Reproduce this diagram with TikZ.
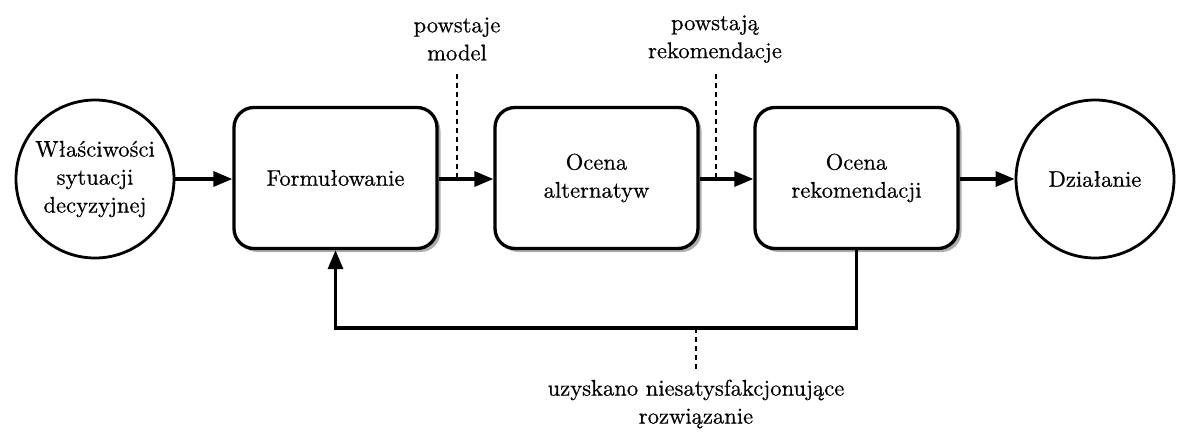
\documentclass[tikz,border=0pt]{standalone}
\usepackage{fontspec}
\newfontfamily\labelfont{lmroman10-regular.otf}[FakeBold=0.5]
\usetikzlibrary{arrows.meta,shadows}
\begin{document}
\begin{tikzpicture}[x=1pt,y=-1pt,
  every node/.style={font=\labelfont\fontsize{22.6}{28}\selectfont, align=center, inner sep=0pt},
  stage/.style={draw, line width=3.3pt, rounded corners=20pt, minimum width=203pt, minimum height=141pt,
    fill=white, drop shadow={shadow xshift=3.5pt, shadow yshift=-3.5pt, fill=black!45, opacity=0.7}},
  state/.style={draw, line width=2.8pt, circle, minimum size=158pt, fill=white},
  flow/.style={line width=3.3pt, -{Triangle[length=19pt,width=15pt]}},
  note/.style={line width=1.6pt, dash pattern=on 5pt off 4pt},
]
\useasboundingbox (0,0) rectangle (1178,434);

% process chain
\node[state] (start) at (95,179) {Właściwości\\sytuacji\\decyzyjnej};
\node[stage] (form) at (335.5,178) {Formułowanie};
\node[stage] (alt)  at (596.5,178) {Ocena\\alternatyw};
\node[stage] (rec)  at (856.5,178) {Ocena\\rekomendacji};
\node[state] (act)  at (1095,179) {Działanie};

\draw[flow] (start.east) -- (form.west |- start.east);
\draw[flow] (form.east |- start.east) -- (alt.west |- start.east);
\draw[flow] (alt.east |- start.east) -- (rec.west |- start.east);
\draw[flow] (rec.east |- start.east) -- (act.west);

% feedback loop
\coordinate (loopR) at (856.5,328);
\coordinate (loopL) at (335.5,328);
\draw[flow] (rec.south) -- (loopR) -- (loopL) -- (form.south);

% annotations
\node (modelTxt) at (457,39) {powstaje\\model};
\coordinate (modelTop) at (457,74);
\coordinate (modelBot) at (457,179);
\draw[note] (modelTop) -- (modelBot);

\node (recTxt) at (715,39) {powstają\\rekomendacje};
\coordinate (recTop) at (716,74);
\coordinate (recBot) at (716,179);
\draw[note] (recTop) -- (recBot);

\coordinate (failTop) at (696,328);
\coordinate (failBot) at (696,370);
\draw[note] (failTop) -- (failBot);
\node (failTxt) at (696,404) {uzyskano niesatysfakcjonujące\\rozwiązanie};
\end{tikzpicture}
\end{document}
